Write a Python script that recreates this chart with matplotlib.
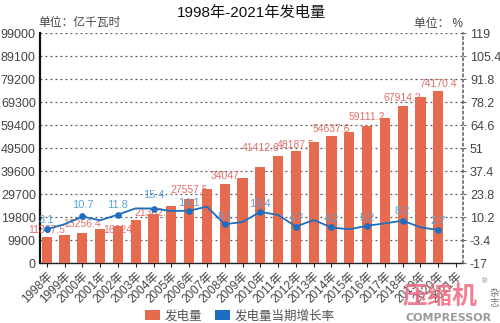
import matplotlib
matplotlib.use("Agg")
import matplotlib.pyplot as plt
from matplotlib.patches import Patch

plt.rcParams['font.family'] = ['Liberation Sans', 'Noto Sans CJK SC', 'DejaVu Sans']
plt.rcParams['axes.unicode_minus'] = False

years = [f"{y}年" for y in range(1998, 2022)]
gen = [11367.5, 12300, 13256.4, 14600, 16024, 18500, 21302.3, 24500, 27557.5,
       32000, 34047, 36800, 41412.6, 46000, 48187.5, 52300, 54637.6, 56600,
       59111.2, 62700, 67914.2, 71400, 74170.4]
growth = [3.1, 6.1, 10.7, 8.4, 11.8, 15.5, 15.4, 13.9, 14.1, 16.5, 6.1, 7.4,
          13.4, 11.6, 4.7, 8.6, 4.2, 3.1, 5.2, 6.6, 8.2, 4.3, 2.7]
gen_labels = {0: "11367.5", 2: "13256.4", 4: "16024", 6: "21302.3", 8: "27557.5",
              10: "34047", 12: "41412.6", 14: "48187.5", 16: "54637.6",
              18: "59111.2", 20: "67914.2", 22: "74170.4"}
left_ticks = [0, 9900, 19800, 29700, 39600, 49500, 59400, 69300, 79200, 89100, 99000]
right_ticks = [-17, -3.4, 10.2, 23.8, 37.4, 51, 64.6, 78.2, 91.8, 105.4, 119]
right_tick_labels = ["-17", "-3.4", "10.2", "23.8", "37.4", "51", "64.6", "78.2",
                     "91.8", "105.4", "119"]

# label placement (style): vertical offsets of label centres, in pixels
gen_off_px = {0: 7, 2: 8.5, 4: -3.5, 6: 0.5, 8: 9.5, 10: 8.3, 12: 19,
              14: 6, 16: 7.3, 18: 9.3, 20: 7.3, 22: 7.3}
gr_off_px = {0: 9, 2: 11.7, 4: 10, 6: 14, 8: 7.5, 10: 8.4, 12: 8.3,
             14: 8.7, 16: 8, 18: 7.4, 20: 9.3, 22: 9}

BAR = "#e66a4e"
LINE = "#1c6fc0"
GRAY = "#444444"
PX = 72 / 100  # points per pixel

fig = plt.figure(figsize=(5, 3.23), dpi=100)
ax = fig.add_axes([40/500, 1-263.3/323, 423/500, 230/323])
ax2 = ax.twinx()
ax.set_zorder(1)
ax2.set_zorder(2)
ax.patch.set_visible(True)
ax2.patch.set_visible(False)

xs = list(range(len(gen)))
ax.bar(xs, gen, width=0.57, color=BAR, zorder=3)
ax.set_xlim(-0.38, 23.39)
ax.set_ylim(0, 99000)
ax.set_yticks(left_ticks)
ax.set_yticklabels([str(t) for t in left_ticks], fontsize=9, color=GRAY)
ax.set_xticks(range(len(years)))
ax.set_xticklabels(years, rotation=45, ha='right', rotation_mode='anchor',
                   fontsize=8.5, color=GRAY)
ax.tick_params(axis='x', length=3, width=0.8, pad=2, color='#222222')
ax.tick_params(axis='y', length=0, pad=3)
ax.grid(axis='y', linestyle=(0, (1.5, 2.5)), color='#555555', linewidth=0.9, zorder=0)
for s in ['top', 'right']:
    ax.spines[s].set_visible(False)
ax.spines['left'].set_linewidth(1.6)
ax.spines['left'].set_color('#111111')
ax.spines['bottom'].set_linewidth(1.0)
ax.spines['bottom'].set_color('#222222')

for i, lab in gen_labels.items():
    ax.annotate(lab, (xs[i], gen[i]), xytext=(0, gen_off_px[i] * PX),
                textcoords='offset points', ha='center', va='center',
                fontsize=7.5, color='#e0706a', zorder=5)

ax2.plot(xs, growth, color=LINE, linewidth=1.3, marker='o', markersize=3.8,
         markevery=2, zorder=4)
ax2.set_ylim(-17, 119)
ax2.set_yticks(right_ticks)
ax2.set_yticklabels(right_tick_labels, fontsize=9, color=GRAY)
ax2.tick_params(axis='y', length=2, width=0.8, pad=3, color='#666666')
for s in ['top', 'left', 'bottom']:
    ax2.spines[s].set_visible(False)
ax2.spines['right'].set_linestyle((0, (1.2, 2)))
ax2.spines['right'].set_color('#666666')
ax2.spines['right'].set_linewidth(1.2)
for i in range(0, len(growth), 2):
    ax2.annotate(f"{growth[i]}", (xs[i], growth[i]), xytext=(0, gr_off_px[i] * PX),
                 textcoords='offset points', ha='center', va='center',
                 fontsize=8, color='#5aa3d6', zorder=6)

fig.text(252/500, 1-13/323, "1998年-2021年发电量", ha='center', va='center',
         fontsize=11, color='#111111')
fig.text(38/500, 1-23/323, "单位：亿千瓦时", ha='left', va='center',
         fontsize=8.5, color=GRAY)
fig.text(463/500, 1-24/323, "单位： %", ha='right', va='center',
         fontsize=8.5, color=GRAY)

handles = [Patch(facecolor=BAR, edgecolor='none', label='发电量'),
           Patch(facecolor=LINE, edgecolor='none', label='发电量当期增长率')]
leg = fig.legend(handles=handles, loc='center', bbox_to_anchor=(240/500, 1-316/323),
                 ncol=2, frameon=False, fontsize=9, handlelength=1.2,
                 handleheight=0.8, columnspacing=1.0, handletextpad=0.4,
                 borderaxespad=0)
for t in leg.get_texts():
    t.set_color('#555555')

# watermark
fig.text(440/500, 1-297/323, "压缩机", ha='center', va='center', fontsize=18,
         fontweight='bold', color='#f06a80', alpha=0.85, family='Noto Sans CJK SC')
fig.text(494/500, 1-298/323, "杂\n志", ha='center', va='center', fontsize=7,
         color='#777777', linespacing=1.1, family='Noto Sans CJK SC')
fig.text(484/500, 1-282/323, "®", ha='center', va='center', fontsize=5,
         color='#777777')
fig.text(449/500, 1-318/323, "COMPRESSOR", ha='center', va='center', fontsize=8,
         fontweight='bold', color='#9a9a9a', family='DejaVu Sans')

fig.savefig("out.png", dpi=100)
